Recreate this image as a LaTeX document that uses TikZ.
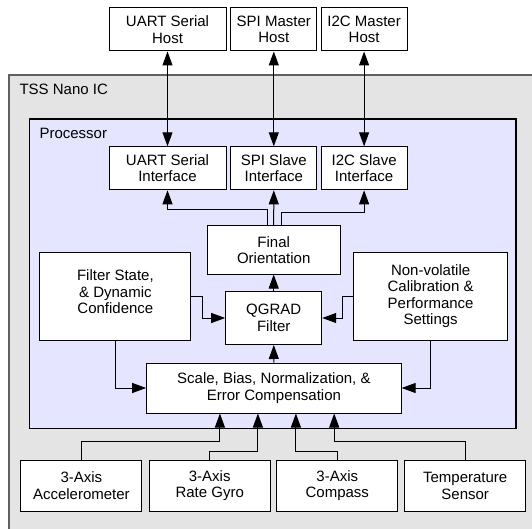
\documentclass[tikz,border=0pt]{standalone}
\usepackage{fontspec}
\setmainfont{Liberation Sans}
\usetikzlibrary{
  arrows.meta  % Triangle tips on the connectors
}

\definecolor{icgray}{HTML}{E4E4E4}
\definecolor{icedge}{HTML}{606060}
\definecolor{procfill}{HTML}{E5E5FF}

\begin{document}
\begin{tikzpicture}[x=1pt, y=-1pt,
    every node/.style={font=\fontsize{15}{16.5}\selectfont},
    blockbox/.style={draw, fill=white, line width=1pt, align=center, inner sep=0pt},
    arr/.style={line width=1pt, -{Triangle[length=14pt, width=10pt]}},
    biarr/.style={line width=1pt, {Triangle[length=14pt, width=10pt]}-{Triangle[length=14pt, width=10pt]}}
  ]
        \useasboundingbox (0,0) rectangle (532,529);

        % IC outline and processor area
        \draw[icedge, fill=icgray, line width=1.5pt] (9,75) rectangle (560,560);
        \node[anchor=west] (iclabel) at (16,89) {TSS Nano IC};
        \draw[fill=procfill, line width=1.3pt] (29.5,119) rectangle (516,428.5);
        \node[anchor=west] (proclabel) at (36,133) {Processor};

        % Hosts outside the IC
        \node[blockbox, minimum width=117pt, minimum height=43pt] (uarthost) at (167.5,29.5) {UART Serial\\Host};
        \node[blockbox, minimum width=86pt, minimum height=43pt] (spihost) at (273.8,29.5) {SPI Master\\Host};
        \node[blockbox, minimum width=86pt, minimum height=43pt] (i2chost) at (364.1,29.5) {I2C Master\\Host};

        % Interfaces
        \node[blockbox, minimum width=117pt, minimum height=43pt] (uartif) at (167.5,168.3) {UART Serial\\Interface};
        \node[blockbox, minimum width=86pt, minimum height=43pt] (spiif) at (273.8,168.3) {SPI Slave\\Interface};
        \node[blockbox, minimum width=86pt, minimum height=43pt] (i2cif) at (364.1,168.3) {I2C Slave\\Interface};

        % Filter chain
        \node[blockbox, minimum width=133pt, minimum height=48pt] (final) at (273.7,250) {Final\\Orientation};
        \node[blockbox, minimum width=96pt, minimum height=53pt] (qgrad) at (273.7,318) {QGRAD\\Filter};
        \node[blockbox, minimum width=151pt, minimum height=88pt] (fstate) at (115.4,296.2) {Filter State,\\\& Dynamic\\Confidence\\[-8pt]};
        \node[blockbox, minimum width=154pt, minimum height=88pt] (nonvol) at (430.6,296.2) {Non-volatile\\Calibration \&\\Performance\\Settings};
        \node[blockbox, minimum width=254.5pt, minimum height=50pt] (scale) at (273.9,388) {Scale, Bias, Normalization, \&\\Error Compensation};

        % Sensors
        \node[blockbox, minimum width=121pt, minimum height=51pt] (accel) at (81.4,485.7) {3-Axis\\Accelerometer};
        \node[blockbox, minimum width=121pt, minimum height=51pt] (gyro) at (209.7,485.7) {3-Axis\\Rate Gyro};
        \node[blockbox, minimum width=121pt, minimum height=51pt] (compass) at (337.3,485.7) {3-Axis\\Compass};
        \node[blockbox, minimum width=121pt, minimum height=51pt] (temp) at (465.2,485.7) {Temperature\\Sensor};

        % Host links
        \draw[biarr] (uarthost) -- (uartif);
        \draw[biarr] (spihost) -- (spiif);
        \draw[biarr] (i2chost) -- (i2cif);

        % Orientation out to the interfaces
        \draw[arr] ([xshift=-6pt]final.north) -- ++(0,-16) -| (uartif.south);
        \draw[arr] (final.north) -- (spiif.south);
        \draw[arr] ([xshift=8pt]final.north) -- ++(0,-12.5) -| (i2cif.south);

        % Into and out of the filter
        \draw[arr] (qgrad) -- (final);
        \draw[arr] (scale) -- (qgrad);
        \draw[arr] (fstate.east) -- ++(11.5,0) |- (qgrad.west);
        \draw[arr] (nonvol.west) -- ++(-11,0) |- (qgrad.east);
        \draw[arr] (fstate.south) |- (scale.west);
        \draw[arr] (nonvol.south) |- (scale.east);

        % Sensor readings
        \draw[arr] (accel.north) -- ++(0,-18.7) -| ([xshift=-54pt]scale.south);
        \draw[arr] (gyro.north) -- ++(0,-7.8) -| ([xshift=-16pt]scale.south);
        \draw[arr] (compass.north) -- ++(0,-7.8) -| ([xshift=22pt]scale.south);
        \draw[arr] (temp.north) -- ++(0,-18.7) -| ([xshift=60.3pt]scale.south);
    \end{tikzpicture}
\end{document}
